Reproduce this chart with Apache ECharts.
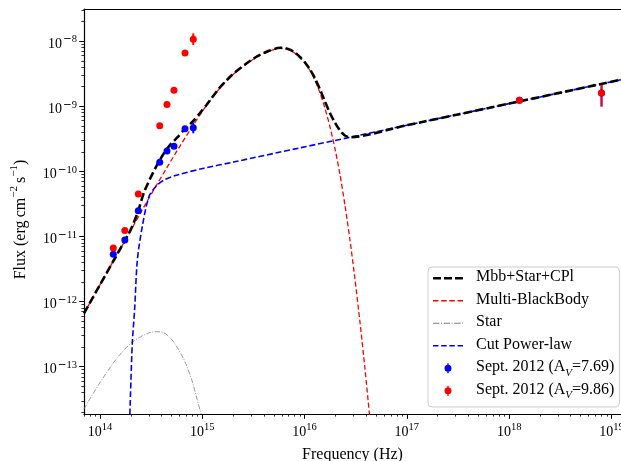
<!DOCTYPE html>
<html><head><meta charset="utf-8">
<script src="https://cdn.jsdelivr.net/npm/echarts@6/dist/echarts.min.js"></script>
<style>html,body{margin:0;padding:0;background:#fff}#c{width:621px;height:461px}</style>
</head><body><div id="c"></div>
<script>
// ---------------- data ----------------
// Mbb+Star+CPl (total model)
const totalNu   = [6.98e13, 1.00e14, 1.37e14, 1.72e14, 2.01e14, 2.32e14, 2.69e14, 3.08e14, 3.61e14, 4.22e14, 4.94e14, 5.70e14, 6.62e14, 8.17e14, 9.50e14, 1.09e15, 1.46e15, 1.95e15, 2.62e15, 3.50e15, 4.49e15, 5.75e15, 6.43e15, 7.20e15, 8.06e15, 9.02e15, 1.01e16, 1.13e16, 1.26e16, 1.41e16, 1.58e16, 1.77e16, 1.98e16, 2.22e16, 2.48e16, 2.78e16, 1e17, 1e18, 1.24e19];
const totalFlux = [6.61e-13, 1.81e-12, 4.36e-12, 8.23e-12, 1.30e-11, 2.26e-11, 4.74e-11, 7.64e-11, 1.25e-10, 1.90e-10, 2.64e-10, 3.32e-10, 4.33e-10, 5.94e-10, 7.89e-10, 1.03e-9, 1.88e-9, 3.03e-9, 4.39e-9, 5.93e-9, 7.12e-9, 7.92e-9, 7.83e-9, 7.40e-9, 6.66e-9, 5.72e-9, 4.71e-9, 3.67e-9, 2.72e-9, 1.84e-9, 1.19e-9, 7.89e-10, 5.64e-10, 4.25e-10, 3.56e-10, 3.35e-10, 5.12e-10, 1.10e-9, 2.56e-9];
// Multi-BlackBody
const mbbNu   = [6.98e13, 1.00e14, 1.37e14, 1.84e14, 2.46e14, 3.37e14, 4.52e14, 6.05e14, 8.11e14, 1.09e15, 1.46e15, 1.95e15, 2.62e15, 3.50e15, 4.49e15, 5.75e15, 6.43e15, 7.20e15, 8.06e15, 9.02e15, 1.01e16, 1.13e16, 1.26e16, 1.41e16, 1.58e16, 1.77e16, 1.98e16, 2.22e16, 2.48e16, 2.78e16, 3.11e16, 3.48e16, 3.89e16, 4.31e16];
const mbbFlux = [6.61e-13, 1.81e-12, 4.36e-12, 9.82e-12, 2.22e-11, 5.27e-11, 1.15e-10, 2.45e-10, 5.07e-10, 1.01e-9, 1.84e-9, 2.97e-9, 4.31e-9, 5.82e-9, 7.00e-9, 7.78e-9, 7.69e-9, 7.27e-9, 6.54e-9, 5.62e-9, 4.59e-9, 3.55e-9, 2.54e-9, 1.63e-9, 9.42e-10, 4.89e-10, 2.25e-10, 8.96e-11, 3.05e-11, 8.84e-12, 2.22e-12, 4.86e-13, 9.55e-14, 1.85e-14];
// Star
const starNu   = [6.98e13, 1.09e14, 1.72e14, 2.50e14, 3.58e14, 4.55e14, 6.15e14, 7.71e14, 8.68e14, 9.75e14];
const starFlux = [2.25e-14, 7.01e-14, 1.81e-13, 2.89e-13, 3.45e-13, 3.07e-13, 1.61e-13, 7.02e-14, 3.67e-14, 1.85e-14];
// Cut Power-law
const cplNu   = [1.96e14, 2.07e14, 2.18e14, 2.32e14, 2.59e14, 3.01e14, 3.50e14, 4.23e14, 5.70e14, 1.04e15, 2.01e15, 9.02e15, 2.78e16, 1e17, 1e18, 1.24e19];
const cplFlux = [1.85e-14, 2.29e-13, 7.43e-13, 4.36e-12, 1.42e-11, 4.09e-11, 5.82e-11, 7.38e-11, 8.81e-11, 1.12e-10, 1.39e-10, 2.30e-10, 3.34e-10, 5.12e-10, 1.10e-9, 2.56e-9];
// Observations, Sept. 2012
const obsNu      = [1.35e14, 1.75e14, 2.37e14, 3.84e14, 4.52e14, 5.29e14, 6.78e14, 8.17e14, 1.26e18, 8.0e18];
const blueFlux   = [5.33e-12, 8.83e-12, 2.49e-11, 1.38e-10, 2.06e-10, 2.43e-10, 4.53e-10, 4.69e-10, 1.24e-9, 1.60e-9];
const redFlux    = [6.65e-12, 1.24e-11, 4.50e-11, 5.04e-10, 1.07e-9, 1.76e-9, 6.59e-9, 1.07e-8, 1.24e-9, 1.60e-9];
// error bars [nu, low, high]
const blueErrNu = [8.17e14], blueErrLo = [3.85e-10], blueErrHi = [5.60e-10];
const redErrNu  = [8.17e14], redErrLo  = [8.74e-9],  redErrHi  = [1.32e-8];
const xrayErrNu = [8.0e18],  xrayErrLo = [9.86e-10], xrayErrHi = [2.12e-9];
// axes
const xMajorTicks = [1e14, 1e15, 1e16, 1e17, 1e18, 1e19];
const yMajorTicks = [1e-13, 1e-12, 1e-11, 1e-10, 1e-9, 1e-8];
const xMin = 6.98e13, xMax = 1.24e19, yMin = 1.88e-14, yMax = 3.12e-8;

// ---------------- chart ----------------
const FONT = "'Liberation Serif', 'DejaVu Serif', serif";
const pairs = (a, b) => a.map((v, i) => [v, b[i]]);
const triples = (a, b, c) => a.map((v, i) => [v, b[i], c[i]]);
function minorTicks(e0, e1, lo, hi) {
  const out = [];
  for (let e = e0; e <= e1; e++) for (let m = 2; m <= 9; m++) {
    const v = m * Math.pow(10, e);
    if (v >= lo && v <= hi) out.push(v);
  }
  return out;
}
const xMinor = minorTicks(13, 19, xMin, xMax);
const yMinor = minorTicks(-14, -8, yMin, yMax);
function powLabel(v) {
  const e = Math.round(Math.log10(v));
  return e < 0 ? '{b|10}{m|\u2212}{s|' + (-e) + '}' : '{b|10}{s|' + e + '}';
}
const tickRich = {
  b: {fontFamily: FONT, fontSize: 14, color: '#000', lineHeight: 14, padding: [3, 0, 3, 0], verticalAlign: 'top'},
  m: {fontFamily: "'DejaVu Sans', sans-serif", fontSize: 10.5, color: '#000', lineHeight: 10, padding: [0, 0, 0, 1], verticalAlign: 'top'},
  s: {fontFamily: FONT, fontSize: 10.5, color: '#000', lineHeight: 10, verticalAlign: 'top'}
};
const blackAxisLine = {show: true, onZero: false, lineStyle: {color: '#000', width: 1.2}};
function errSeries(name, nu, lo, hi, color, w) {
  return {
    name: name, type: 'custom', silent: true, z: 5,
    data: triples(nu, lo, hi), encode: {x: 0, y: [1, 2]},
    renderItem: function (params, api) {
      const a = api.coord([api.value(0), api.value(1)]);
      const b = api.coord([api.value(0), api.value(2)]);
      return {type: 'line', shape: {x1: a[0], y1: a[1], x2: b[0], y2: b[1]},
              style: {stroke: color, lineWidth: w}};
    }
  };
}
const legendLabels = {
  'Mbb+Star+CPl': '{n|Mbb+Star+CPl}',
  'Multi-BlackBody': '{n|Multi-BlackBody}',
  'Star': '{n|Star}',
  'Cut Power-law': '{n|Cut Power-law}',
  'Sept. 2012 (AV=7.69)': '{n|Sept. 2012 (A}{v|V}{n|=7.69)}',
  'Sept. 2012 (AV=9.86)': '{n|Sept. 2012 (A}{v|V}{n|=9.86)}'
};
const BOX = 'M0,0L0,0Z M30,22.5L30,22.5Z ';
const ptIcon = 'path://' + BOX + 'M14.3,6.25H15.7V16.25H14.3Z M18.5,11.25A3.5,3.5,0,1,1,11.5,11.25A3.5,3.5,0,1,1,18.5,11.25Z';

const chart = echarts.init(document.getElementById('c'), null, {renderer: 'canvas'});
chart.setOption({
  animation: false,
  backgroundColor: '#fff',
  grid: {left: 84, right: 0, top: 9, bottom: 47, containLabel: false, outerBoundsMode: 'none'},
  xAxis: [
    {type: 'log', min: xMin, max: xMax, position: 'bottom',
     axisLine: blackAxisLine,
     axisTick: {show: true, customValues: xMajorTicks, length: 4.8, lineStyle: {color: '#000', width: 1}},
     axisLabel: {customValues: xMajorTicks, formatter: powLabel, margin: 8, rich: tickRich},
     splitLine: {show: false}, minorTick: {show: false},
     name: 'Frequency (Hz)', nameLocation: 'middle', nameGap: 26,
     nameTextStyle: {fontFamily: FONT, fontSize: 16, color: '#000'}},
    {type: 'log', min: xMin, max: xMax, position: 'bottom',
     axisLine: {show: false}, axisLabel: {show: false}, splitLine: {show: false},
     axisTick: {show: true, customValues: xMinor, length: 2.6, lineStyle: {color: '#000', width: 0.8}}},
    {type: 'log', min: xMin, max: xMax, position: 'top',
     axisLine: blackAxisLine, axisLabel: {show: false}, axisTick: {show: false}, splitLine: {show: false}}
  ],
  yAxis: [
    {type: 'log', min: yMin, max: yMax, position: 'left',
     axisLine: blackAxisLine,
     axisTick: {show: true, customValues: yMajorTicks, length: 4.8, lineStyle: {color: '#000', width: 1}},
     axisLabel: {customValues: yMajorTicks, formatter: powLabel, margin: 7, rich: tickRich},
     splitLine: {show: false}, minorTick: {show: false},
     name: '{t|Flux (erg\u2009cm}{s|\u22122}{t|\u2009s}{s|\u22121}{t|)}', nameLocation: 'middle', nameGap: 59,
     nameTextStyle: {padding: [0, 16, 0, 0], rich: {
       t: {fontFamily: FONT, fontSize: 16, color: '#000', lineHeight: 16, padding: [4, 0, 0, 0], verticalAlign: 'top'},
       s: {fontFamily: FONT, fontSize: 11, color: '#000', lineHeight: 11, verticalAlign: 'top'}
     }}},
    {type: 'log', min: yMin, max: yMax, position: 'left',
     axisLine: {show: false}, axisLabel: {show: false}, splitLine: {show: false},
     axisTick: {show: true, customValues: yMinor, length: 2.6, lineStyle: {color: '#000', width: 0.8}}}
  ],
  legend: {
    left: 428, top: 267, orient: 'vertical',
    itemWidth: 30, itemHeight: 22.5, itemGap: 0,
    padding: [0, 5, 5, 5],
    backgroundColor: 'rgba(255,255,255,0.8)', borderColor: '#cccccc', borderWidth: 1, borderRadius: 4,
    selectedMode: false,
    itemStyle: {borderWidth: 0},
    formatter: name => legendLabels[name],
    textStyle: {padding: [0, 0, 0, 8], rich: {
      n: {fontFamily: FONT, fontSize: 16, color: '#000', lineHeight: 18, verticalAlign: 'top'},
      v: {fontFamily: FONT, fontSize: 11, fontStyle: 'italic', color: '#000', lineHeight: 11, padding: [8, 0, 0, 0], verticalAlign: 'top'}
    }},
    data: [
      {name: 'Mbb+Star+CPl', icon: 'path://' + BOX + 'M0,9.95H8V12.55H0Z M11,9.95H19V12.55H11Z M22,9.95H30V12.55H22Z', itemStyle: {color: '#000000'}},
      {name: 'Multi-BlackBody', icon: 'path://' + BOX + 'M0,10.6H5.5V11.9H0Z M8.17,10.6H13.67V11.9H8.17Z M16.33,10.6H21.83V11.9H16.33Z M24.5,10.6H30V11.9H24.5Z', itemStyle: {color: '#ff0000'}},
      {name: 'Star', icon: 'path://' + BOX + 'M0,10.8H6.4V11.7H0Z M8,10.8H9V11.7H8Z M10.6,10.8H17V11.7H10.6Z M18.6,10.8H19.6V11.7H18.6Z M21.2,10.8H27.6V11.7H21.2Z M29.2,10.8H30V11.7H29.2Z', itemStyle: {color: '#808080'}},
      {name: 'Cut Power-law', icon: 'path://' + BOX + 'M0,10.45H5.5V12.05H0Z M8.17,10.45H13.67V12.05H8.17Z M16.33,10.45H21.83V12.05H16.33Z M24.5,10.45H30V12.05H24.5Z', itemStyle: {color: '#0000ff'}},
      {name: 'Sept. 2012 (AV=7.69)', icon: ptIcon, itemStyle: {color: '#0000ff'}},
      {name: 'Sept. 2012 (AV=9.86)', icon: ptIcon, itemStyle: {color: '#ff0000'}}
    ]
  },
  series: [
    {name: 'Multi-BlackBody', type: 'line', data: pairs(mbbNu, mbbFlux), symbol: 'none', smooth: 0.25, z: 3,
     itemStyle: {color: '#ff0000'}, lineStyle: {color: '#ff0000', width: 1.3, type: [5, 2.6]}},
    {name: 'Star', type: 'line', data: pairs(starNu, starFlux), symbol: 'none', smooth: 0.4, z: 3,
     itemStyle: {color: '#808080'}, lineStyle: {color: '#808080', width: 0.8, type: [5, 1.5, 1, 1.5]}},
    {name: 'Cut Power-law', type: 'line', data: pairs(cplNu, cplFlux), symbol: 'none', smooth: 0.3, z: 3,
     itemStyle: {color: '#0000ff'}, lineStyle: {color: '#0000ff', width: 1.6, type: [6, 2.7]}},
    {name: 'Mbb+Star+CPl', type: 'line', data: pairs(totalNu, totalFlux), symbol: 'none', smooth: 0.25, z: 4,
     itemStyle: {color: '#000000'}, lineStyle: {color: '#000000', width: 2.6, type: [8, 3.5]}},
    errSeries('errBlue', blueErrNu, blueErrLo, blueErrHi, '#0000ff', 2),
    errSeries('errRed', redErrNu, redErrLo, redErrHi, '#ff0000', 2),
    errSeries('errXray', xrayErrNu, xrayErrLo, xrayErrHi, '#d0103c', 2.5),
    {name: 'Sept. 2012 (AV=7.69)', type: 'scatter', data: pairs(obsNu, blueFlux), symbol: 'circle', symbolSize: 7, z: 6,
     itemStyle: {color: '#0000ff', opacity: 1}},
    {name: 'Sept. 2012 (AV=9.86)', type: 'scatter', data: pairs(obsNu, redFlux), symbol: 'circle', symbolSize: 7, z: 7,
     itemStyle: {color: '#ff0000', opacity: 1}}
  ]
});
</script>
</body></html>
